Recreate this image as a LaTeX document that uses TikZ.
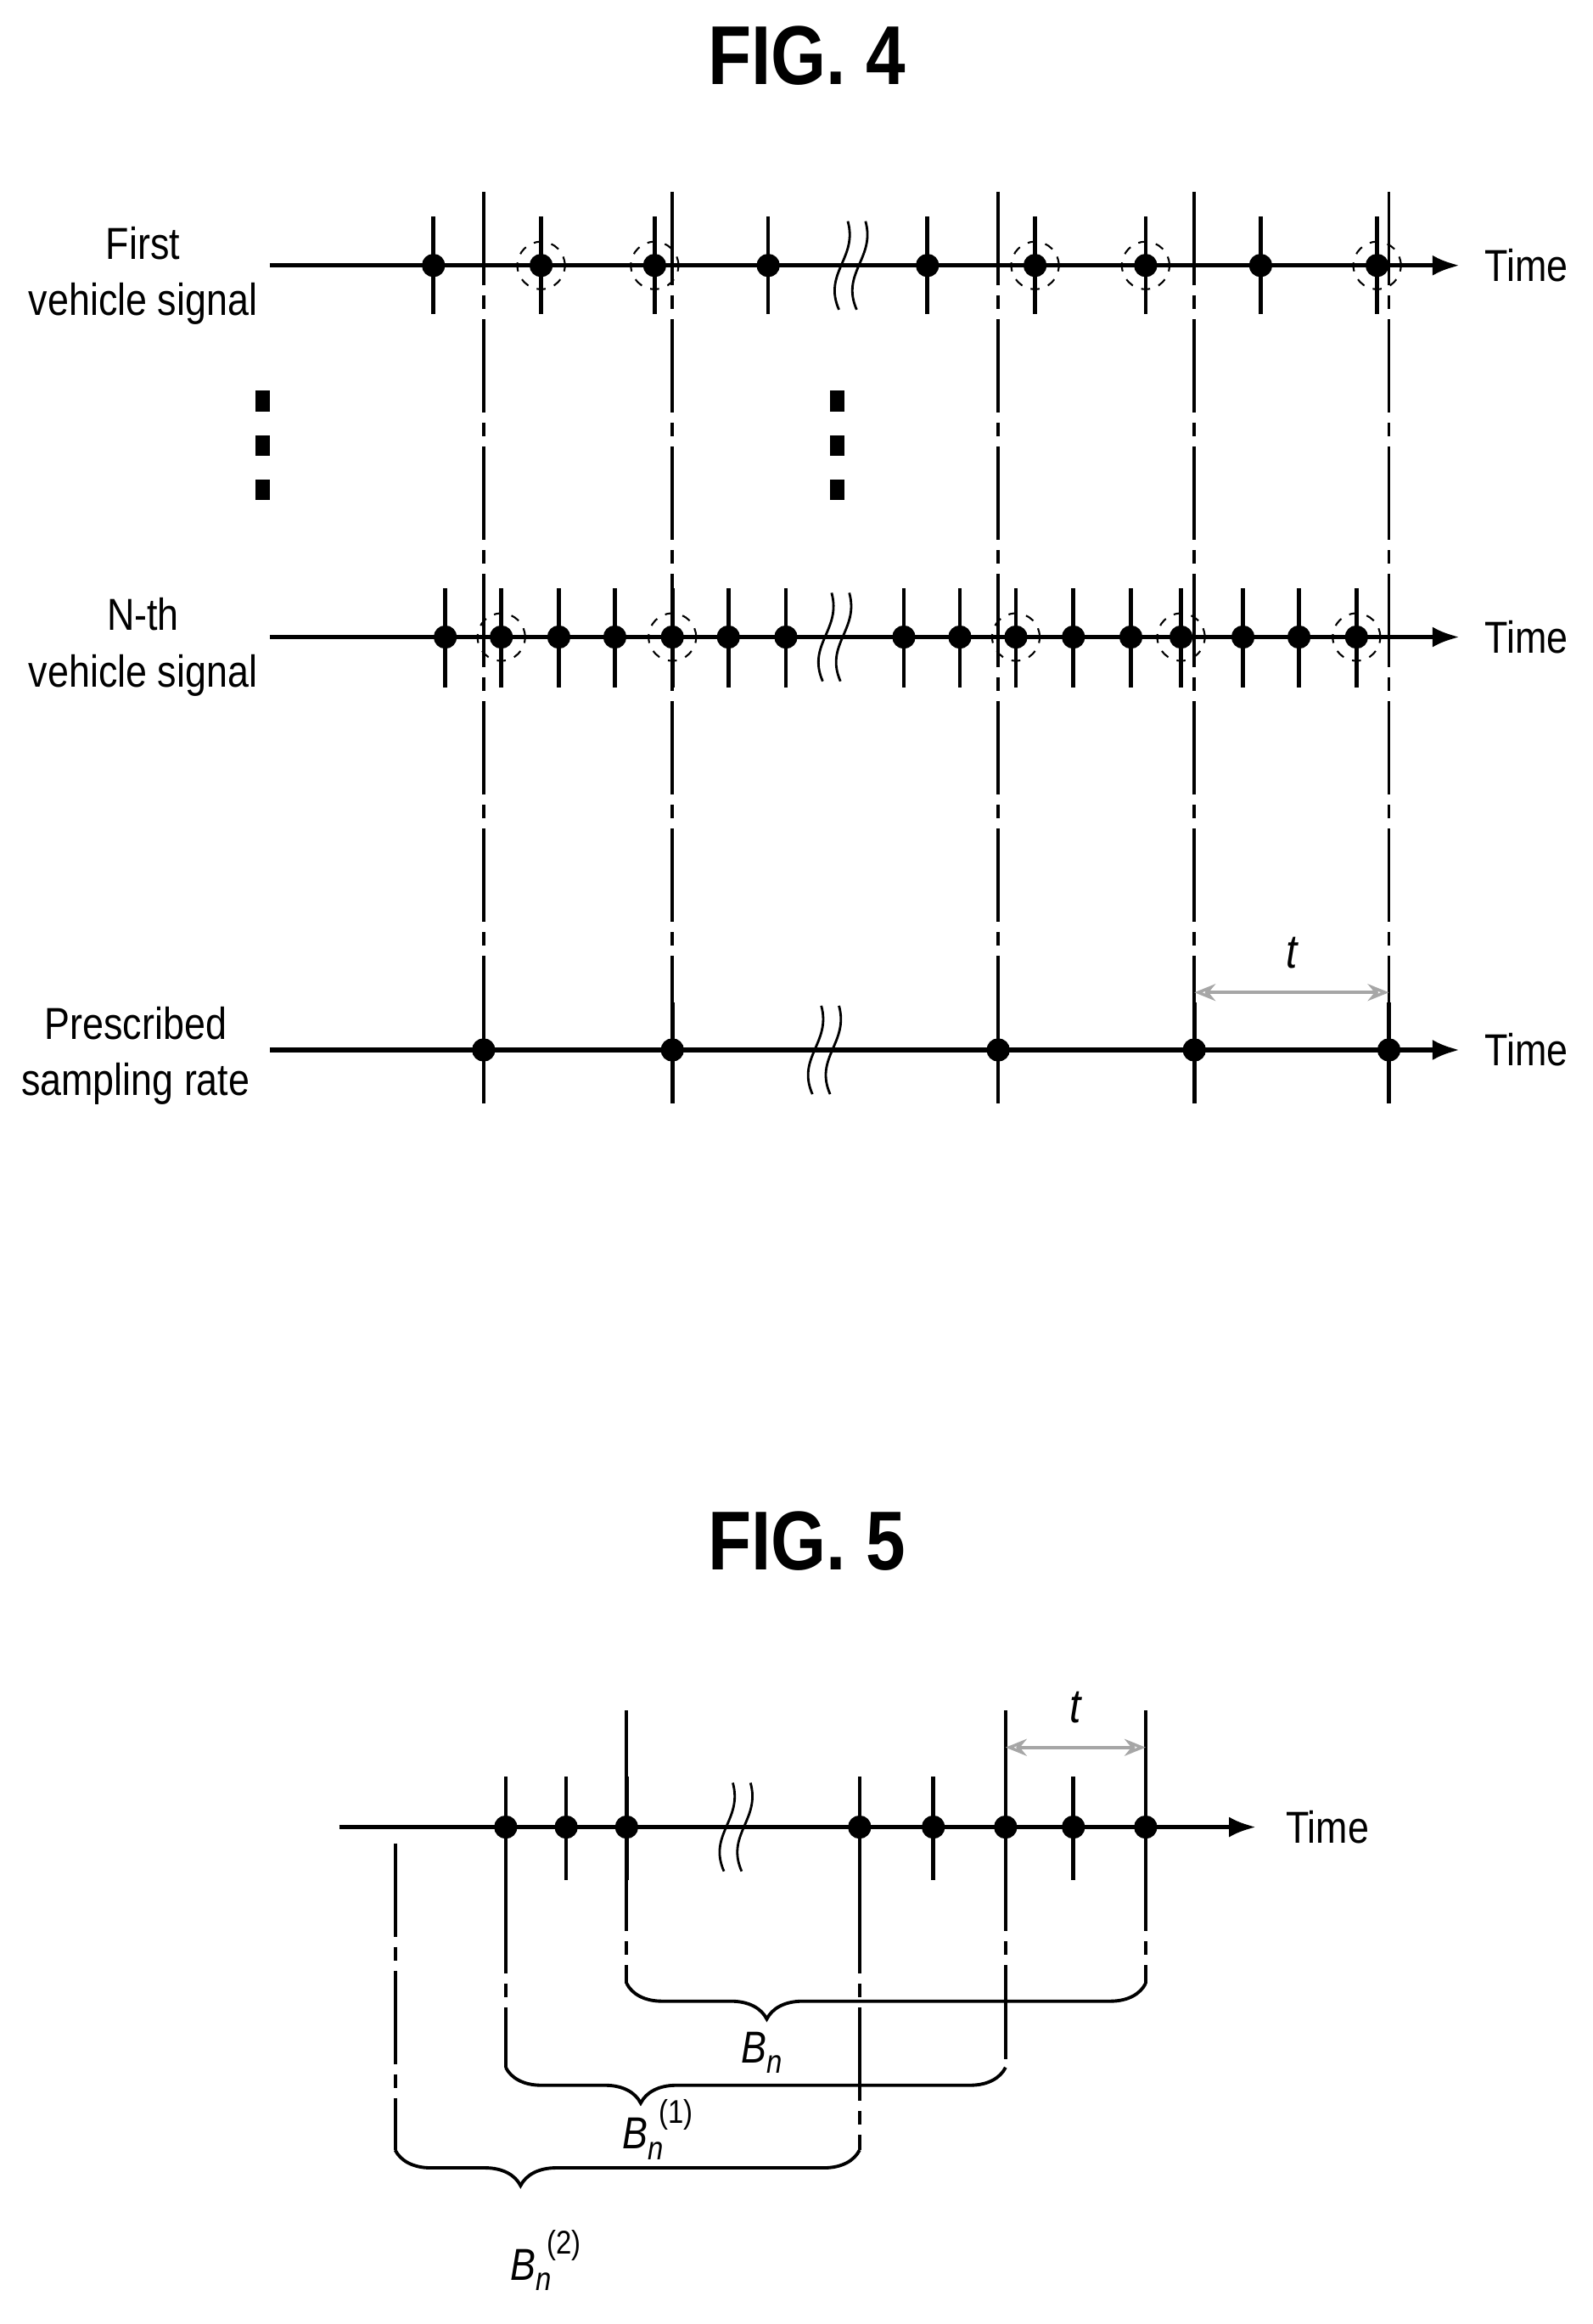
\documentclass[tikz,border=0pt]{standalone}
\usepackage{fontspec}
\setmainfont{Liberation Sans}[FakeStretch=0.85]
\usetikzlibrary{arrows.meta,decorations.pathreplacing}
\newcommand\blbl[1]{\textit{B}\raisebox{-0.45ex}{\fontsize{11}{12}\selectfont\textit{n}}\hspace{-0.1em}\raisebox{1.1ex}{\fontsize{11}{12}\selectfont #1}}
\begin{document}
\begin{tikzpicture}[x=0.01737cm,y=-0.01737cm,
  >={Latex[length=0.32cm,width=0.24cm]},
  axis/.style = {line width=1.5pt,->},
  dot/.style = {draw, circle, fill = black, inner sep = 0pt, minimum size = 0.26cm},
  ring/.style = {draw, circle, dashed, inner sep = 0pt, minimum size = 0.56cm, line width=0.6pt},
  tick/.style = {line width=1.3pt},
  guide/.style = {line width=1.1pt, dash pattern=on 1.1cm off 0.12cm on 0.16cm off 0.12cm},
  lbl/.style = {font=\fontsize{15}{19}\selectfont, align=center},
  title/.style = {font=\bfseries\fontsize{28}{30}\selectfont},
  gap/.style = {gray!70, line width=1pt, <->, >={Stealth[length=0.25cm,width=0.2cm,open]}},
  tl/.style = {black, font=\itshape\fontsize{16}{19}\selectfont},
  brc/.style = {decorate, decoration={brace, mirror, amplitude=0.42cm, aspect=0.27}, line width=1.1pt},
]
\useasboundingbox (0,0) rectangle (1080,1576);
\newcommand\wavy[2]{%
  \draw[line width=0.8pt] (#1-9,#2+30) .. controls (#1-20,#2+5) and (#1+4,#2-5) .. (#1-3,#2-30);
  \draw[line width=0.8pt] (#1+3,#2+30) .. controls (#1-8,#2+5) and (#1+16,#2-5) .. (#1+9,#2-30);}
% FIG. 4
\node[title] (t4) at (547,38) {FIG. 4};
\foreach \y [count=\r] in {180,432,712} {
  \coordinate (s\r) at (183,\y);
  \coordinate (e\r) at (990,\y);
  \draw[axis] (s\r) -- (e\r);
  \node[lbl, anchor=west] (time\r) at (1000,\y) {Time};
}
\node[lbl] (l1) at (97,187) {First\\vehicle signal};
\node[lbl] (l2) at (97,439) {N-th\\vehicle signal};
\node[lbl] (l3) at (92,716) {Prescribed\\sampling rate};
% sampling guides
\foreach \x [count=\i] in {328,456,677,810,942} {
  \coordinate (gt\i) at (\x,130);
  \coordinate (gb\i) at (\x,748);
  \draw[guide] (gt\i) -- (gb\i);
  \draw[tick] (\x,680) -- (\x,748);
  \node[dot] (c\i) at (\x,712) {};
}
% first vehicle signal
\foreach \x [count=\i] in {294,367,444,521,629,702,777,855,934} {
  \draw[tick] (\x,147) -- (\x,213);
  \node[dot] (a\i) at (\x,180) {};
}
\foreach \i in {2,3,6,7,9} \node[ring] at (a\i) {};
\wavy{578}{180}
% N-th vehicle signal
\foreach \x [count=\i] in {302,340,379,417,456,494,533,613,651,689,728,767,801,843,881,920} {
  \draw[tick] (\x,399) -- (\x,466);
  \node[dot] (b\i) at (\x,432) {};
}
\foreach \i in {2,5,10,13,16} \node[ring] at (b\i) {};
\wavy{567}{432}
\wavy{560}{712}
% vertical dots
\foreach \x in {178,568} \foreach \y in {272,302,332}
  \fill (\x-5,\y-7) rectangle (\x+5,\y+7);
% interval t
\coordinate (p4) at (810,673);
\coordinate (p5) at (942,673);
\draw[gap] (p4) -- node[above=0.15cm, tl] {t} (p5);
% FIG. 5
\node[title] (t5) at (547,1045) {FIG. 5};
\coordinate (s5) at (230,1239);
\coordinate (e5) at (852,1239);
\draw[axis] (s5) -- (e5);
\node[lbl, anchor=west] (time5) at (865,1239) {Time};
\foreach \x [count=\i] in {343,384,425,583,633,682,728,777} {
  \draw[tick] (\x,1205) -- (\x,1275);
  \node[dot] (d\i) at (\x,1239) {};
}
\wavy{500}{1239}
\coordinate (u3) at (425,1160); \coordinate (v3) at (425,1345);
\coordinate (u6) at (682,1160); \coordinate (v6) at (682,1402);
\coordinate (u8) at (777,1160); \coordinate (v8) at (777,1345);
\coordinate (u1) at (343,1275); \coordinate (v1) at (343,1402);
\coordinate (u4) at (583,1275); \coordinate (v4) at (583,1458);
\coordinate (u0) at (268,1250); \coordinate (v0) at (268,1458);
\foreach \i in {0,1,3,4,6,8} \draw[guide] (u\i) -- (v\i);
\draw[brc] (v3) -- (v8);
\draw[brc] (v1) -- (v6);
\draw[brc] (v0) -- (v4);
\node[lbl] (bn0) at (515,1392) {\blbl{}};
\node[lbl] (bn1) at (446,1444) {\blbl{(1)}};
\node[lbl] (bn2) at (370,1533) {\blbl{(2)}};
\coordinate (q6) at (682,1185);
\coordinate (q8) at (777,1185);
\draw[gap] (q6) -- node[above=0.15cm, tl] {t} (q8);
\end{tikzpicture}
\end{document}
